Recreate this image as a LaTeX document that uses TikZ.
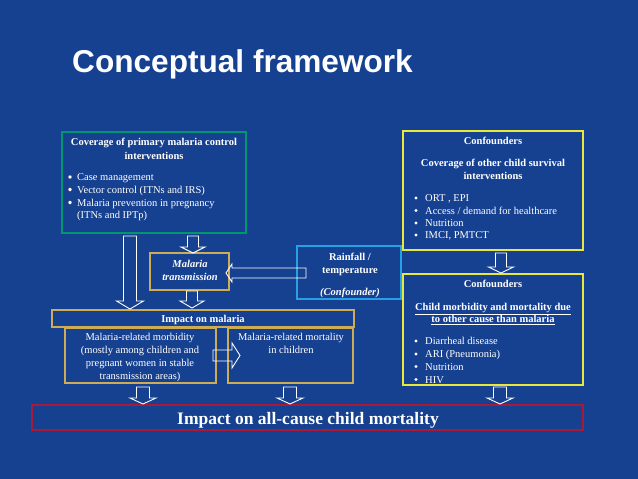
\documentclass[tikz,border=0pt]{standalone}
\usepackage{fontspec}
\setmainfont{Liberation Serif}
\setsansfont{Liberation Sans}
\usetikzlibrary{fit}
\definecolor{bg}{RGB}{22,64,144}
\definecolor{cgreen}{RGB}{0,150,110}
\definecolor{cyell}{RGB}{232,232,60}
\definecolor{cgold}{RGB}{205,172,85}
\definecolor{ccyan}{RGB}{40,160,230}
\definecolor{cred}{RGB}{170,25,55}
\newcommand\blockdown[6]{%
  \draw[blk] (#1-#5,#2) -- (#1-#5,#3) -- (#1-#6,#3) -- (#1,#4) -- (#1+#6,#3) -- (#1+#5,#3) -- (#1+#5,#2) -- cycle;}
\begin{document}
\begin{tikzpicture}[x=1pt,y=-1pt,
  box/.style={draw, line width=1.8pt, inner sep=0pt, fill=bg},
  gbox/.style={box, draw=cgreen},
  ybox/.style={box, draw=cyell},
  odbox/.style={box, draw=cgold},
  cbox/.style={box, draw=ccyan},
  rbox/.style={box, draw=cred, line width=1.2pt},
  blk/.style={draw=white, line width=0.9pt, line join=miter},
  t/.style={text=white, inner sep=0pt, anchor=base, font=\fontsize{10.5}{12}\selectfont},
  tb/.style={t, font=\fontsize{10.5}{12}\selectfont\bfseries},
  tbi/.style={t, font=\fontsize{10.5}{12}\selectfont\bfseries\itshape},
  tl/.style={t, anchor=base west},
  dot/.style={circle, fill=white, inner sep=0pt, minimum size=3.2pt},
  wdot/.style={circle, fill=white, draw=bg!60!black, line width=0.3pt, inner sep=0pt, minimum size=4pt}]
\fill[bg] (0,0) rectangle (638,479);
\useasboundingbox (0,0) rectangle (638,479);

% title
\node[anchor=base west, inner sep=0pt, text=white, font=\sffamily\bfseries\fontsize{31.6}{36}\selectfont] (title) at (72,72) {Conceptual framework};

% boxes
\node[gbox, fit={(62,132) (246,233)}] (cov) {};
\node[ybox, fit={(403,131) (583,250)}] (conf1) {};
\node[ybox, fit={(403,274) (583,385)}] (conf2) {};
\node[odbox, fit={(150,253) (229,290)}] (trans) {};
\node[cbox, fit={(297,246) (401,299)}] (rain) {};
\node[odbox, fit={(52,310) (354,327)}] (impm) {};
\node[odbox, fit={(65,328) (216,383)}] (morb) {};
\node[odbox, fit={(228,328) (353,383)}] (mort) {};
\node[rbox, fit={(32,405) (583,430)}] (allc) {};

% block arrows
\blockdown{193}{236}{247}{253}{5.5}{12}
\blockdown{130}{236}{301}{309}{6.5}{13.5}
\blockdown{192}{291}{301}{308}{5.5}{12}
\blockdown{501}{253}{267}{273}{5.5}{12.5}
\blockdown{143}{387}{398}{404}{6.5}{13}
\blockdown{290}{387}{398}{404}{6.5}{13}
\blockdown{500}{387}{398}{404}{6.5}{13}
% rainfall -> transmission (left)
\draw[blk] (306,268) -- (232,268) -- (232,264) -- (226,273) -- (232,282) -- (232,278) -- (306,278) -- cycle;
% morbidity -> mortality (right)
\draw[blk] (213,350) -- (232,350) -- (232,343) -- (240,355.5) -- (232,368) -- (232,361) -- (213,361) -- cycle;

% green box text
\node[tb] (cov1) at (154,145.5) {Coverage of primary malaria control};
\node[tb] (cov2) at (154,159.5) {interventions};
\node[wdot] (gd1) at (70,177) {};
\node[wdot] (gd2) at (70,189.5) {};
\node[wdot] (gd3) at (70,202.5) {};
\node[tl] (gi1) at (77,180.5) {Case management};
\node[tl] (gi2) at (77,193) {Vector control (ITNs and IRS)};
\node[tl] (gi3) at (77,206) {Malaria prevention in pregnancy};
\node[tl] (gi4) at (77,218.5) {(ITNs and IPTp)};

% confounders 1
\node[tb] (c1a) at (493,144.5) {Confounders};
\node[tb] (c1b) at (493,166) {Coverage of other child survival};
\node[tb] (c1c) at (493,179.5) {interventions};
\node[dot] (yd1) at (416,198) {};
\node[dot] (yd2) at (416,210.5) {};
\node[dot] (yd3) at (416,223) {};
\node[dot] (yd4) at (416,235) {};
\node[tl] (y1) at (425,201.5) {ORT , EPI};
\node[tl] (y2) at (425,214) {Access / demand for healthcare};
\node[tl] (y3) at (425,226.5) {Nutrition};
\node[tl] (y4) at (425,238.5) {IMCI, PMTCT};

% confounders 2
\node[tb] (c2a) at (493,287.5) {Confounders};
\node[tb] (c2b) at (493,310.5) {\underline{Child morbidity and mortality due}};
\node[tb] (c2c) at (493,322.5) {\underline{to other cause than malaria}};
\node[dot] (zd1) at (416,341) {};
\node[dot] (zd2) at (416,354) {};
\node[dot] (zd3) at (416,366.5) {};
\node[dot] (zd4) at (416,379.5) {};
\node[tl] (z1) at (425,344.5) {Diarrheal disease};
\node[tl] (z2) at (425,357.5) {ARI (Pneumonia)};
\node[tl] (z3) at (425,370) {Nutrition};
\node[tl] (z4) at (425,383) {HIV};

% transmission / rainfall
\node[tbi] (tr1) at (190,267.5) {Malaria};
\node[tbi] (tr2) at (190,280.5) {transmission};
\node[tb] (rf1) at (350,260.5) {Rainfall /};
\node[tb] (rf2) at (350,273.5) {temperature};
\node[tbi] (rf3) at (350,295) {(Confounder)};

% impact on malaria
\node[tb] (im) at (203,322.5) {Impact on malaria};
\node[t] (mb1) at (140,340.5) {Malaria-related morbidity};
\node[t] (mb2) at (140,353.5) {(mostly among children and};
\node[t] (mb3) at (140,366.5) {pregnant women in stable};
\node[t] (mb4) at (140,379.5) {transmission areas)};
\node[t] (mt1) at (291,340.5) {Malaria-related mortality};
\node[t] (mt2) at (291,353.5) {in children};

% all-cause
\node[t, font=\fontsize{17.5}{20}\selectfont\bfseries] (ac) at (308,424) {Impact on all-cause child mortality};
\end{tikzpicture}
\end{document}
